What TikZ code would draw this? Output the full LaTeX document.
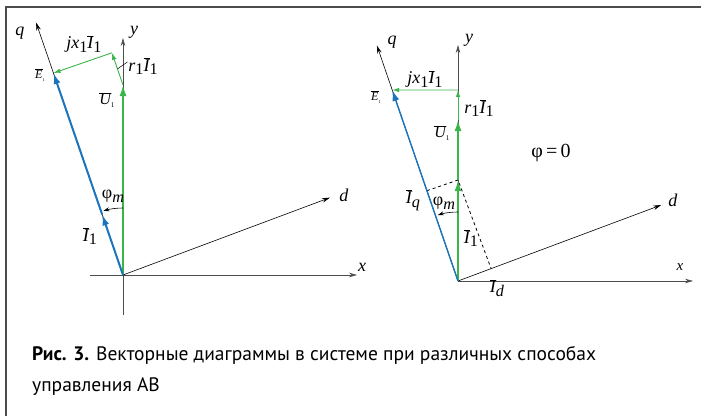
\documentclass[tikz,border=0pt]{standalone}
\usepackage{fontspec}
\setmainfont{Liberation Serif}
\newfontfamily\lblfont{Liberation Serif}
\newfontfamily\capfont{PT Sans}
\usetikzlibrary{arrows.meta,calc}
\definecolor{vblue}{RGB}{28,117,188}
\definecolor{vgreen}{RGB}{57,181,74}
\newcommand{\ovl}[1]{$\overline{\mbox{\lblfont\itshape #1}}$}
\newcommand{\lsub}[1]{\raisebox{-0.45ex}{\scalebox{0.9}{#1}}}
\begin{document}
\begin{tikzpicture}[x=1pt,y=1pt,
  axisline/.style={line width=0.6pt, -{Stealth[length=8pt,width=4.5pt]}},
  grayaxis/.style={axisline, black!70},
  thickvec/.style={line width=1.8pt, -{Latex[length=11pt,width=7pt]}},
  thinvec/.style={line width=0.9pt, -{Latex[length=7pt,width=4.5pt]}},
  lbl/.style={inner sep=0pt, font=\lblfont\fontsize{18}{20}\selectfont},
  smalllbl/.style={inner sep=0pt, font=\lblfont\fontsize{12}{14}\selectfont},
  anglearc/.style={line width=0.6pt, -{Stealth[length=6pt,width=4pt]}}]
\useasboundingbox (0,0) rectangle (701,416);
% frame
\draw[line width=1.2pt, black!70] (6,0) -- (6,409) -- (701,409);

% ---------------- left diagram ----------------
\coordinate (O1) at (123,141);
\coordinate (X1a) at (90,141);
\coordinate (X1b) at (357,141);
\coordinate (Y1a) at (123,101);
\coordinate (Y1b) at (123,378);
\coordinate (Q1) at ($(O1)+(109:267)$);
\coordinate (D1) at ($(O1)+(20.5:221)$);
\coordinate (U1) at (123,331);
\coordinate (R1) at ($(U1)+(109:34)$);
\coordinate (E1) at ($(O1)+(109:213.6)$);
\coordinate (I1) at ($(O1)+(109:64)$);
\coordinate (A1s) at ($(O1)+(90:67)$);
\coordinate (L1a) at ($(U1)!0.5!(R1)$);
\coordinate (L1b) at ($(L1a)+(10,7)$);

\draw[grayaxis] (X1a) -- (X1b);
\draw[grayaxis] (Y1a) -- (Y1b);
\draw[axisline] (O1) -- (Q1);
\draw[axisline] (O1) -- (D1);
\draw[thickvec, vgreen] (O1) -- (U1);
\draw[thinvec, vgreen] (U1) -- (R1);
\draw[thinvec, vgreen] (R1) -- (E1);
\draw[thickvec, vblue, line width=2pt] (O1) -- (I1);
\draw[thickvec, vblue, line width=2pt] (I1) -- (E1);
\draw[anglearc] (A1s) arc[start angle=90, end angle=107, radius=67];
\draw[line width=0.5pt] (L1a) -- (L1b);

\node[lbl] (q1) at (20,383) {\textit{q}};
\node[lbl] (y1) at (134,384) {\textit{y}};
\node[lbl] (d1) at (344,221) {\textit{d}};
\node[lbl] (x1) at (362,149) {\textit{x}};
\node[smalllbl] (e1l) at (40,341) {\ovl{E}\lsub{\tiny 1}};
\node[lbl, font=\lblfont\fontsize{16}{18}\selectfont] (u1l) at (107,316) {\ovl{U}\lsub{\footnotesize 1}};
\node[lbl] (i1l) at (90,180) {\ovl{I}\lsub{1}};
\node[lbl] (jx1l) at (84,372) {\textit{jx}\lsub{1}\ovl{I}\lsub{1}};
\node[lbl] (r1l) at (143,350) {\textit{r}\lsub{1}\ovl{I}\lsub{1}};
\node[lbl] (phi1) at (113,220) {φ\lsub{\textit{m}}};

% ---------------- right diagram ----------------
\coordinate (O2) at (458,135);
\coordinate (X2b) at (693,135);
\coordinate (Y2b) at (458,371);
\coordinate (Q2) at ($(O2)+(109:249)$);
\coordinate (D2) at ($(O2)+(20.5:217)$);
\coordinate (P2) at (458,236);
\coordinate (U2) at (458,296);
\coordinate (R2) at (458,326);
\coordinate (E2) at ($(O2)+(109:202)$);
\coordinate (Fq) at ($(O2)!(P2)!(Q2)$);
\coordinate (Fd) at ($(O2)!(P2)!(D2)$);
\coordinate (A2s) at ($(O2)+(90:69)$);

\draw[grayaxis] (O2) -- (X2b);
\draw[grayaxis] (O2) -- (Y2b);
\draw[axisline] (O2) -- (Q2);
\draw[axisline] (O2) -- (D2);
\draw[line width=0.8pt, dashed] (Fq) -- (P2) -- (Fd);
\draw[thickvec, vgreen] (O2) -- (P2);
\draw[thickvec, vgreen] (P2) -- (U2);
\draw[thinvec, vgreen] (U2) -- (R2);
\draw[thinvec, vgreen] (R2) -- (E2);
\draw[line width=1.4pt, vblue, -{Latex[length=11pt,width=7pt]}] (O2) -- (E2);
\draw[anglearc] (A2s) arc[start angle=90, end angle=107, radius=69];

\node[lbl] (q2) at (392,374) {\textit{q}};
\node[lbl] (y2) at (469,376) {\textit{y}};
\node[lbl] (d2) at (673,216) {\textit{d}};
\node[lbl, font=\lblfont\fontsize{15}{18}\selectfont] (x2) at (680,149) {\textit{x}};
\node[smalllbl] (e2l) at (376,319) {\ovl{E}\lsub{\tiny 1}};
\node[lbl, font=\lblfont\fontsize{16}{18}\selectfont] (u2l) at (442,283) {\ovl{U}\lsub{\footnotesize 1}};
\node[lbl] (i2l) at (471,178) {\ovl{I}\lsub{1}};
\node[lbl] (jx2l) at (425,337) {\textit{jx}\lsub{1}\ovl{I}\lsub{1}};
\node[lbl] (r2l) at (479,308) {\textit{r}\lsub{1}\ovl{I}\lsub{1}};
\node[lbl] (iql) at (413,216) {\ovl{I}\lsub{\textit{q}}};
\node[lbl] (idl) at (497,128) {\ovl{I}\lsub{\textit{d}}};
\node[lbl] (phi2) at (444,213) {φ\lsub{\textit{m}}};
\node[lbl, font=\lblfont\fontsize{20}{22}\selectfont] (phi0) at (551,263) {φ\,=\,0};

% ---------------- caption ----------------
\node[anchor=base west, inner sep=0pt, font=\capfont\fontsize{19.5}{22}\selectfont] (cap1) at (32,56)
  {\textbf{Рис. 3.} Векторные диаграммы в системе при различных способах};
\node[anchor=base west, inner sep=0pt, font=\capfont\fontsize{19.5}{22}\selectfont] (cap2) at (32,25)
  {управления АВ};
\end{tikzpicture}
\end{document}
